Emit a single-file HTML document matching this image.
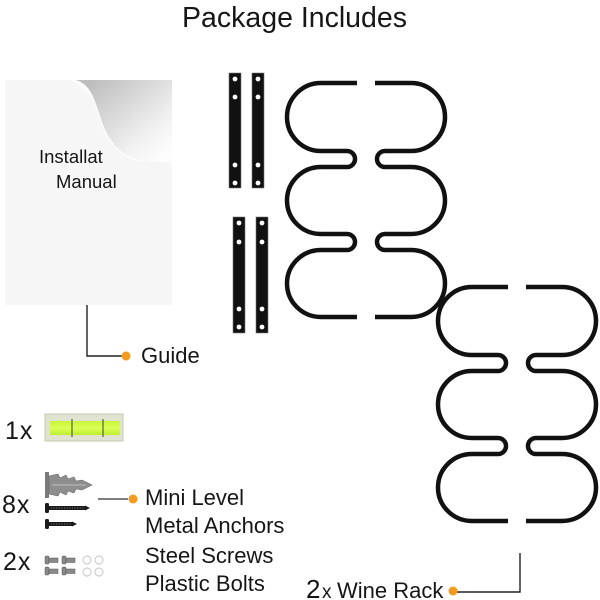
<!DOCTYPE html>
<html>
<head>
<meta charset="utf-8">
<style>
  html,body{margin:0;padding:0;background:#fff;}
  svg{display:block;}
  text{font-family:"Liberation Sans",sans-serif;fill:#161616;}
</style>
</head>
<body>
<svg width="600" height="600" viewBox="0 0 600 600" xmlns="http://www.w3.org/2000/svg">
  <defs>
    <linearGradient id="curl" x1="0.05" y1="0.15" x2="0.85" y2="0.95">
      <stop offset="0" stop-color="#bdbdbd"/>
      <stop offset="0.35" stop-color="#d6d6d6"/>
      <stop offset="0.75" stop-color="#f2f2f2"/>
      <stop offset="1" stop-color="#fdfdfd"/>
    </linearGradient>
    <linearGradient id="vial" x1="0" y1="0" x2="0" y2="1">
      <stop offset="0" stop-color="#c6f53a"/>
      <stop offset="0.5" stop-color="#dcff55"/>
      <stop offset="1" stop-color="#bdee2e"/>
    </linearGradient>
  </defs>

  <!-- Title -->
  <text x="182" y="27" font-size="29" textLength="225" lengthAdjust="spacingAndGlyphs">Package Includes</text>

  <!-- Manual page -->
  <rect x="5" y="80" width="167" height="225" fill="#f6f6f6"/>
  <text x="39" y="163" font-size="18.5">Installat</text>
  <text x="56" y="188" font-size="18.5">Manual</text>
  <!-- revealed background behind curl -->
  <path d="M72,80 L172,80 L172,163 Z" fill="#fbfbfb"/>
  <!-- curled flap -->
  <path d="M72,80 C90,82 94,100 100,118 C106,138 118,156 140,161 L168,162 C171,162 172,164 172,167 L172,80 Z" fill="url(#curl)"/>
  <path d="M72,80 C90,82 94,100 100,118 C106,138 118,156 140,161" fill="none" stroke="#ffffff" stroke-width="1.5" opacity="0.8"/>

  <!-- Guide connector -->
  <polyline points="87,305 87,356 123,356" fill="none" stroke="#222" stroke-width="1.4"/>
  <circle cx="126" cy="356" r="4.5" fill="#f39a1f"/>
  <text x="141" y="363" font-size="22">Guide</text>

  <!-- Brackets -->
  <g fill="#111" stroke="#777" stroke-width="0.6">
    <rect x="229" y="73" width="12" height="115"/>
    <rect x="252" y="73" width="12" height="115"/>
    <rect x="233" y="217" width="12" height="116"/>
    <rect x="256" y="217" width="12" height="116"/>
  </g>
  <g fill="#fff">
    <circle cx="235" cy="79" r="2.4"/><circle cx="235" cy="97" r="2.4"/><circle cx="235" cy="165" r="2.4"/><circle cx="235" cy="183" r="2.4"/>
    <circle cx="258" cy="79" r="2.4"/><circle cx="258" cy="97" r="2.4"/><circle cx="258" cy="165" r="2.4"/><circle cx="258" cy="183" r="2.4"/>
    <circle cx="239" cy="223" r="2.4"/><circle cx="239" cy="242" r="2.4"/><circle cx="239" cy="309" r="2.4"/><circle cx="239" cy="327" r="2.4"/>
    <circle cx="262" cy="223" r="2.4"/><circle cx="262" cy="242" r="2.4"/><circle cx="262" cy="309" r="2.4"/><circle cx="262" cy="327" r="2.4"/>
  </g>

  <!-- Wine rack 1 -->
  <g id="rack" fill="none" stroke="#111" stroke-width="4.5" stroke-linecap="butt">
    <path d="M357,83 L321,83 A34,34 0 0 0 321,151 L347,151 A8,8 0 0 1 347,167 L321,167 A34,33.5 0 0 0 321,234 L347,234 A8,8 0 0 1 347,250 L321,250 A34,33.5 0 0 0 321,317 L357,317"/>
    <path d="M375,83 L411,83 A34,34 0 0 1 411,151 L385,151 A8,8 0 0 0 385,167 L411,167 A34,33.5 0 0 1 411,234 L385,234 A8,8 0 0 0 385,250 L411,250 A34,33.5 0 0 1 411,317 L375,317"/>
  </g>
  <!-- Wine rack 2 -->
  <g transform="translate(151,204)" fill="none" stroke="#111" stroke-width="4.5">
    <path d="M357,83 L321,83 A34,34 0 0 0 321,151 L347,151 A8,8 0 0 1 347,167 L321,167 A34,33.5 0 0 0 321,234 L347,234 A8,8 0 0 1 347,250 L321,250 A34,33.5 0 0 0 321,317 L357,317"/>
    <path d="M375,83 L411,83 A34,34 0 0 1 411,151 L385,151 A8,8 0 0 0 385,167 L411,167 A34,33.5 0 0 1 411,234 L385,234 A8,8 0 0 0 385,250 L411,250 A34,33.5 0 0 1 411,317 L375,317"/>
  </g>

  <!-- Wine rack connector -->
  <polyline points="520,553 520,592 457,592" fill="none" stroke="#222" stroke-width="1.4"/>
  <circle cx="453" cy="591" r="4.5" fill="#f39a1f"/>
  <text x="306" y="598" font-size="26">2</text>
  <text x="322" y="598" font-size="19">x</text>
  <text x="337" y="598" font-size="22">Wine Rack</text>

  <!-- Level -->
  <text x="5" y="439" font-size="25" letter-spacing="1">1x</text>
  <rect x="45" y="414" width="78" height="27" fill="#dfe3d0" stroke="#c5cab5" stroke-width="1"/>
  <rect x="50" y="421" width="70" height="14" fill="url(#vial)"/>
  <line x1="72" y1="419" x2="72" y2="437" stroke="#3a4a20" stroke-width="1"/>
  <line x1="103" y1="419" x2="103" y2="437" stroke="#3a4a20" stroke-width="1"/>

  <!-- Screws -->
  <text x="2" y="513" font-size="25" letter-spacing="1">8x</text>
  <rect x="45" y="472" width="4" height="26" fill="#7a7a7a"/>
  <polygon points="49,476 58,474 60,478 66,475 68,479 74,477 76,481 82,480 92,485 82,490 76,489 74,493 68,491 66,495 60,492 58,496 49,494" fill="#8e8e8e" stroke="#6a6a6a" stroke-width="0.6"/>
  <line x1="52" y1="485" x2="86" y2="485" stroke="#b5b5b5" stroke-width="1.2"/>
  <!-- black screw 1 -->
  <rect x="45" y="503" width="4" height="10" rx="1.5" fill="#1a1a1a"/>
  <rect x="49" y="506" width="36" height="4" fill="#1a1a1a"/>
  <polygon points="85,505.5 90,508 85,510.5" fill="#1a1a1a"/>
  <line x1="51" y1="508" x2="84" y2="508" stroke="#777" stroke-width="1" stroke-dasharray="1.2 1.4"/>
  <!-- black screw 2 -->
  <rect x="45" y="519" width="4" height="10" rx="1.5" fill="#1a1a1a"/>
  <rect x="49" y="522" width="23" height="4" fill="#1a1a1a"/>
  <polygon points="72,521.5 77,524 72,526.5" fill="#1a1a1a"/>
  <line x1="51" y1="524" x2="71" y2="524" stroke="#777" stroke-width="1" stroke-dasharray="1.2 1.4"/>

  <polyline points="98,499 128,499" fill="none" stroke="#333" stroke-width="1.3"/>
  <circle cx="133" cy="499" r="4.5" fill="#f39a1f"/>

  <!-- Bolts -->
  <text x="3" y="570" font-size="25" letter-spacing="1">2x</text>
  <g fill="#8a8a8a" stroke="#555" stroke-width="0.5">
    <rect x="45" y="556" width="4" height="8" rx="1"/><rect x="49" y="558" width="9" height="4.5"/>
    <rect x="62" y="556" width="4" height="8" rx="1"/><rect x="66" y="558" width="9" height="4.5"/>
    <rect x="45" y="567" width="4" height="8" rx="1"/><rect x="49" y="569" width="9" height="4.5"/>
    <rect x="62" y="567" width="4" height="8" rx="1"/><rect x="66" y="569" width="9" height="4.5"/>
  </g>
  <g fill="none" stroke="#cfcfcf" stroke-width="1.2">
    <circle cx="87" cy="560" r="4"/><circle cx="99" cy="560" r="4"/>
    <circle cx="87" cy="572" r="4"/><circle cx="99" cy="572" r="4"/>
  </g>

  <!-- Hardware labels -->
  <text x="145" y="505" font-size="22">Mini Level</text>
  <text x="145" y="533" font-size="22">Metal Anchors</text>
  <text x="145" y="563" font-size="22">Steel Screws</text>
  <text x="145" y="591" font-size="22">Plastic Bolts</text>
</svg>
</body>
</html>
